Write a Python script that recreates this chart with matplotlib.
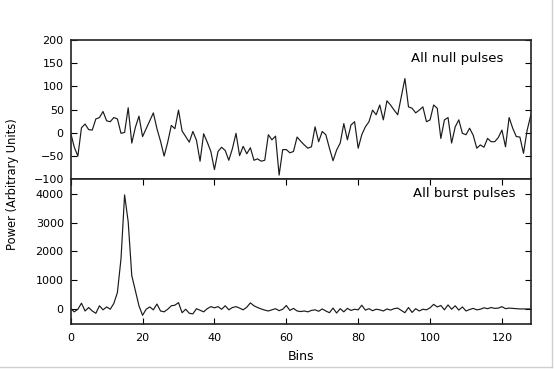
import matplotlib
matplotlib.use("Agg")
import matplotlib.pyplot as plt
from matplotlib.lines import Line2D
import numpy as np

# averaged profile of the null pulses (bins 0..128)
null_power = [
    0, -31, -50, 11, 19, 7, 6, 30, 33, 46,
    26, 24, 33, 30, -1, 1, 54, -22, 12, 36,
    -8, 9, 26, 43, 9, -18, -50, -20, 16, 9,
    49, 4, -8, -20, 3, -16, -61, -2, -20, -40,
    -79, -40, -31, -38, -59, -34, -1, -49, -29, -45,
    -32, -59, -56, -61, -59, -4, -15, -7, -91, -36,
    -36, -43, -40, -9, -18, -26, -33, -30, 13, -19,
    3, -4, -33, -60, -37, -22, 20, -15, 17, 24,
    -33, -4, 13, 24, 49, 39, 60, 28, 69, 60,
    49, 39, 78, 117, 56, 53, 43, 49, 56, 24,
    28, 60, 53, -12, 28, 33, -22, 13, 28, -1,
    -4, 10, -5, -33, -26, -31, -12, -19, -19, -10,
    6, -30, 33, 10, -8, -9, -44, 5, 37,
]

# averaged profile of the burst pulses (bins 0..128)
burst_power = [
    20, -90, 0, 210, -60, 60, -60, -140, 120, -20,
    80, 0, 200, 580, 1750, 3960, 3030, 1165, 640, 120,
    -210, 0, 80, -20, 180, -60, -90, 0, 120, 140,
    230, -120, 0, -140, -160, 20, -35, -90, 20, 90,
    50, 90, 0, 120, -20, 60, 90, 40, -20, 70,
    220, 120, 60, 10, -30, -60, -20, 20, -50, 0,
    130, -40, 30, -60, -80, -60, -90, -40, -20, -70,
    10, -60, -120, 40, -130, 20, -90, 30, -40, 0,
    -20, 140, -30, 20, -50, 0, -20, -60, 10, -30,
    20, 40, -40, -120, 60, -110, 20, -60, 0, -20,
    50, 170, 80, 130, -20, 150, 0, 120, -30, 80,
    -60, -10, 30, -20, 0, 50, 20, 60, 30, 40,
    90, 20, 40, 30, 20, 10, 10, 10, 10,
]

bins = np.arange(len(null_power))

null_yticks = [-100, -50, 0, 50, 100, 150, 200]
burst_yticks = [0, 1000, 2000, 3000, 4000]
x_ticks = [0, 20, 40, 60, 80, 100, 120]

plt.rcParams["font.family"] = "DejaVu Sans"

fig = plt.figure(figsize=(5.54, 3.69), dpi=100)
ax1 = fig.add_axes([0.1276, 0.5141, 0.8303, 0.3775])
ax2 = fig.add_axes([0.1276, 0.1228, 0.8303, 0.3913])

ax1.plot(bins, null_power, color="#1a1a1a", linewidth=0.85)
ax2.plot(np.arange(len(burst_power)), burst_power, color="#1a1a1a", linewidth=0.85)

for ax in (ax1, ax2):
    ax.set_xlim(0, 128)
    ax.tick_params(direction="in", length=4, width=0.8, labelsize=8,
                   left=True, right=True, top=True, bottom=True, pad=5)
    for sp in ax.spines.values():
        sp.set_linewidth(1.2)
        sp.set_color("#222222")

ax1.set_ylim(-100, 200)
ax1.set_yticks(null_yticks)
ax1.set_xticks([])

ax2.set_ylim(-500, 4500)
ax2.set_yticks(burst_yticks)
ax2.set_xticks(x_ticks)
ax2.tick_params(axis="x", pad=7)
ax2.set_xlabel("Bins", fontsize=9, labelpad=5)

ax1.text(0.94, 0.87, "All null pulses", transform=ax1.transAxes,
         ha="right", va="center", fontsize=9.5)
ax2.text(0.967, 0.905, "All burst pulses", transform=ax2.transAxes,
         ha="right", va="center", fontsize=9.5)

fig.text(13 / 554, 0.50, "Power (Arbitrary Units)", rotation=90,
         ha="center", va="center", fontsize=8.3)

# light grey frame on the right and bottom edges
fig.add_artist(Line2D([551.5 / 554, 551.5 / 554], [2.5 / 369, 1.0],
                      transform=fig.transFigure, color="#cfcfcf", linewidth=1))
fig.add_artist(Line2D([0.0, 551.5 / 554], [2.5 / 369, 2.5 / 369],
                      transform=fig.transFigure, color="#cfcfcf", linewidth=1))

fig.savefig("out.png", dpi=100)
plt.close(fig)
